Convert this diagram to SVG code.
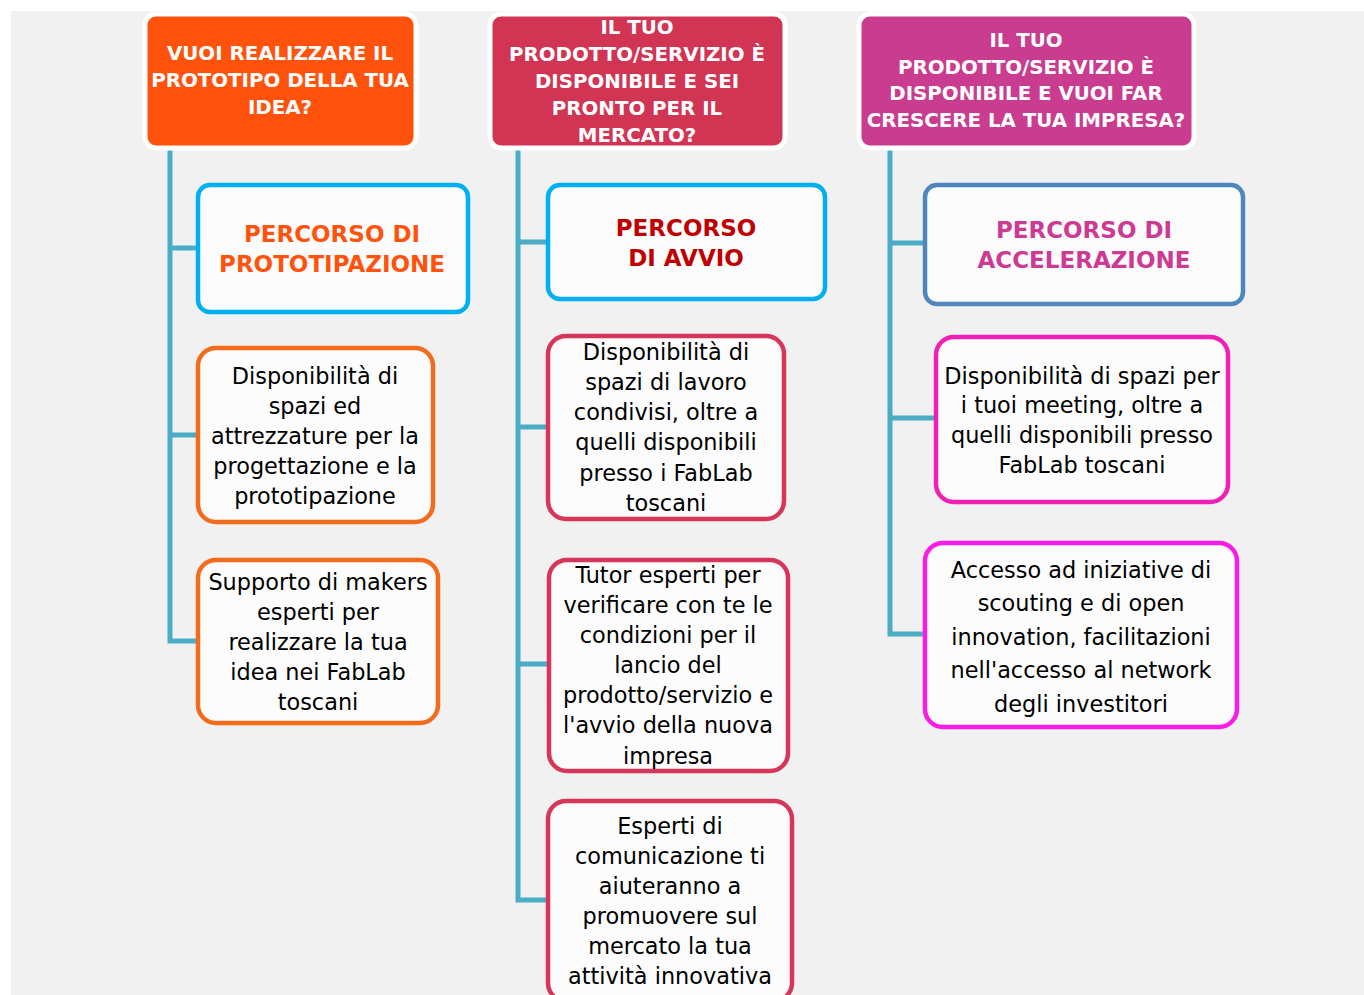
<svg xmlns="http://www.w3.org/2000/svg" width="1364" height="995" viewBox="0 0 1364 995">
<style>
.hdr{stroke:#fff;stroke-width:5}
.hdrt{font-family:"DejaVu Sans","Liberation Sans",sans-serif;font-weight:bold;font-size:19.8px;fill:#fff;text-anchor:middle}
.box{fill:#fcfcfc;stroke-width:4.5}
.pt{font-family:"DejaVu Sans","Liberation Sans",sans-serif;font-weight:bold;font-size:23px;text-anchor:middle}
.bt{font-family:"DejaVu Sans","Liberation Sans",sans-serif;font-size:22.4px;fill:#000;text-anchor:middle}
.con{fill:none;stroke:#4BACC6;stroke-width:5}
</style>
<rect x="0" y="0" width="1364" height="995" fill="#fff"/>
<rect x="11" y="11" width="1353" height="984" fill="#f1f1f1"/>
<g id="connectors">
<path class="con" d="M170 150V641H198M170 248H198M170 435H198"/>
<path class="con" d="M518 150V900H548M518 242H548M518 427H548M518 664H549"/>
<path class="con" d="M890 150V634H925M890 243H925M890 418H936"/>
</g>
<g id="h1">
<rect class="hdr" x="145" y="14" width="271" height="134" rx="11" fill="#FF530D"/>
<text class="hdrt"><tspan x="280" y="60">VUOI REALIZZARE IL</tspan><tspan x="280" y="87">PROTOTIPO DELLA TUA</tspan><tspan x="280" y="114">IDEA?</tspan></text>
</g>
<g id="h2">
<rect class="hdr" x="490" y="14" width="295" height="134" rx="11" fill="#D23453"/>
<text class="hdrt"><tspan x="637" y="34">IL TUO</tspan><tspan x="637" y="61">PRODOTTO/SERVIZIO È</tspan><tspan x="637" y="88">DISPONIBILE E SEI</tspan><tspan x="637" y="115">PRONTO PER IL</tspan><tspan x="637" y="142">MERCATO?</tspan></text>
</g>
<g id="h3">
<rect class="hdr" x="859" y="14" width="335" height="134" rx="11" fill="#C93C8F"/>
<text class="hdrt"><tspan x="1026" y="47">IL TUO</tspan><tspan x="1026" y="74">PRODOTTO/SERVIZIO È</tspan><tspan x="1026" y="100">DISPONIBILE E VUOI FAR</tspan><tspan x="1026" y="127">CRESCERE LA TUA IMPRESA?</tspan></text>
</g>
<g id="p1">
<rect class="box" x="198" y="185" width="270" height="127" rx="12" stroke="#00B0F0"/>
<text class="pt" fill="#FF530D"><tspan x="332" y="242">PERCORSO DI</tspan><tspan x="332" y="272">PROTOTIPAZIONE</tspan></text>
</g>
<g id="p2">
<rect class="box" x="548" y="185" width="277" height="114" rx="12" stroke="#00B0F0"/>
<text class="pt" fill="#C00000"><tspan x="686" y="236">PERCORSO</tspan><tspan x="686" y="266">DI AVVIO</tspan></text>
</g>
<g id="p3">
<rect class="box" x="925" y="185" width="318" height="119" rx="12" stroke="#4F86BE"/>
<text class="pt" fill="#CC3A93"><tspan x="1084" y="238">PERCORSO DI</tspan><tspan x="1084" y="268">ACCELERAZIONE</tspan></text>
</g>
<g id="a1">
<rect class="box" x="198" y="348" width="235" height="174" rx="18" stroke="#F26C1E"/>
<text class="bt"><tspan x="315" y="384">Disponibilità di</tspan><tspan x="315" y="414">spazi ed</tspan><tspan x="315" y="444">attrezzature per la</tspan><tspan x="315" y="474">progettazione e la</tspan><tspan x="315" y="504">prototipazione</tspan></text>
</g>
<g id="a2">
<rect class="box" x="198" y="560" width="240" height="163" rx="18" stroke="#F26C1E"/>
<text class="bt"><tspan x="318" y="590">Supporto di makers</tspan><tspan x="318" y="620">esperti per</tspan><tspan x="318" y="650">realizzare la tua</tspan><tspan x="318" y="680">idea nei FabLab</tspan><tspan x="318" y="710">toscani</tspan></text>
</g>
<g id="b1">
<rect class="box" x="548" y="336" width="236" height="183" rx="18" stroke="#D6365A"/>
<text class="bt"><tspan x="666" y="360">Disponibilità di</tspan><tspan x="666" y="390">spazi di lavoro</tspan><tspan x="666" y="420">condivisi, oltre a</tspan><tspan x="666" y="450">quelli disponibili</tspan><tspan x="666" y="481">presso i FabLab</tspan><tspan x="666" y="511">toscani</tspan></text>
</g>
<g id="b2">
<rect class="box" x="549" y="560" width="239" height="211" rx="18" stroke="#D6365A"/>
<text class="bt"><tspan x="668" y="583">Tutor esperti per</tspan><tspan x="668" y="613">verificare con te le</tspan><tspan x="668" y="643">condizioni per il</tspan><tspan x="668" y="673">lancio del</tspan><tspan x="668" y="703">prodotto/servizio e</tspan><tspan x="668" y="733">l'avvio della nuova</tspan><tspan x="668" y="764">impresa</tspan></text>
</g>
<g id="b3">
<rect class="box" x="548" y="801" width="244" height="200" rx="18" stroke="#D6365A"/>
<text class="bt"><tspan x="670" y="834">Esperti di</tspan><tspan x="670" y="864">comunicazione ti</tspan><tspan x="670" y="894">aiuteranno a</tspan><tspan x="670" y="924">promuovere sul</tspan><tspan x="670" y="954">mercato la tua</tspan><tspan x="670" y="984">attività innovativa</tspan></text>
</g>
<g id="c1">
<rect class="box" x="936" y="337" width="292" height="165" rx="18" stroke="#F020B4"/>
<text class="bt"><tspan x="1082" y="384">Disponibilità di spazi per</tspan><tspan x="1082" y="413">i tuoi meeting, oltre a</tspan><tspan x="1082" y="443">quelli disponibili presso</tspan><tspan x="1082" y="473">FabLab toscani</tspan></text>
</g>
<g id="c2">
<rect class="box" x="925" y="543" width="312" height="184" rx="18" stroke="#F81CE5"/>
<text class="bt"><tspan x="1081" y="578">Accesso ad iniziative di</tspan><tspan x="1081" y="611">scouting e di open</tspan><tspan x="1081" y="645">innovation, facilitazioni</tspan><tspan x="1081" y="678">nell'accesso al network</tspan><tspan x="1081" y="712">degli investitori</tspan></text>
</g>
</svg>
